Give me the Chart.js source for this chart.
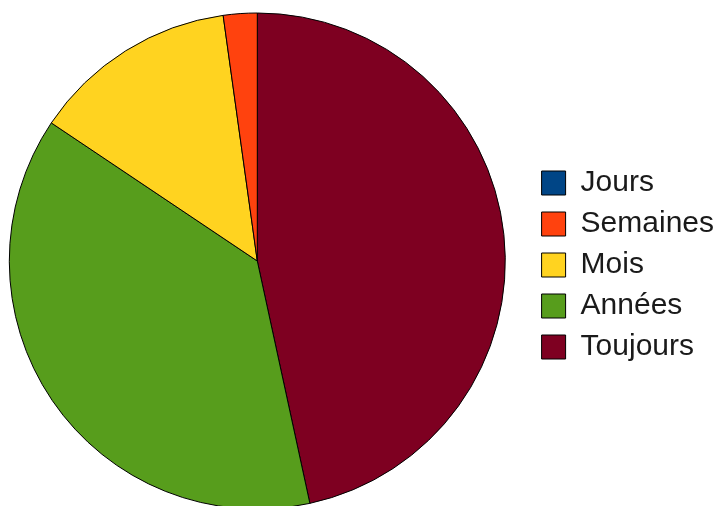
<!DOCTYPE html>
<html>
<head>
<meta charset="utf-8">
<script src="https://cdn.jsdelivr.net/npm/chart.js@4.4.1/dist/chart.umd.min.js"></script>
<style>
html, body { margin: 0; padding: 0; background: #fff; overflow: hidden; width: 715px; height: 506px; }
#wrap { position: absolute; left: -16px; top: 0; width: 740px; height: 506px; }
</style>
</head>
<body>
<div id="wrap"><canvas id="pie_chart"></canvas></div>
<script>
// legend order: Jours, Semaines, Mois, Années, Toujours
var labels = ["Jours", "Semaines", "Mois", "Années", "Toujours"];
var values = [0, 2.2, 13.4, 37.8, 46.6];
var colors = ["#004586", "#ff420e", "#ffd320", "#579d1c", "#7e0021"];

// pie goes counter-clockwise from the top, so feed it reversed
var ctx = document.getElementById('pie_chart');
var myChart = new Chart(ctx, {
    type: 'pie',
    data: {
        labels: labels.slice().reverse(),
        datasets: [{
            data: values.slice().reverse(),
            backgroundColor: colors.slice().reverse(),
            borderColor: '#000000',
            borderWidth: 1,
            radius: 248
        }]
    },
    options: {
        responsive: true,
        maintainAspectRatio: false,
        animation: false,
        layout: {
            padding: { top: 16, left: 0, right: 0, bottom: 0 }
        },
        plugins: {
            tooltip: { enabled: false },
            legend: {
                position: 'right',
                reverse: true,
                // empty title only pushes the items down a bit
                title: {
                    display: true,
                    text: ' ',
                    font: { size: 1, lineHeight: 1 },
                    padding: { top: 0, bottom: 7 }
                },
                labels: {
                    boxWidth: 24,
                    boxHeight: 24,
                    padding: 11,
                    color: '#1a1a1a',
                    font: { family: 'Liberation Sans', size: 30 }
                }
            }
        }
    }
});
</script>
</body>
</html>
